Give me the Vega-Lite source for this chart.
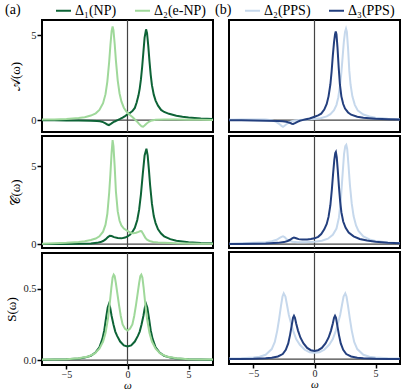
{
"$schema": "https://vega.github.io/schema/vega-lite/v6.json",
"padding": {"left": 4, "top": 2, "right": 5, "bottom": 0},
"datasets": {
"aA": [
{"s":"Δ₁(NP)","x":-7,"y":-0.01},{"s":"Δ₁(NP)","x":-6,"y":-0.01},{"s":"Δ₁(NP)","x":-5,"y":-0.015},{"s":"Δ₁(NP)","x":-4,"y":-0.02},{"s":"Δ₁(NP)","x":-3,"y":-0.03},{"s":"Δ₁(NP)","x":-2.5,"y":-0.05},{"s":"Δ₁(NP)","x":-2.25,"y":-0.07},{"s":"Δ₁(NP)","x":-2,"y":-0.12},{"s":"Δ₁(NP)","x":-1.8,"y":-0.19},{"s":"Δ₁(NP)","x":-1.65,"y":-0.26},{"s":"Δ₁(NP)","x":-1.52,"y":-0.29},{"s":"Δ₁(NP)","x":-1.4,"y":-0.24},{"s":"Δ₁(NP)","x":-1.25,"y":-0.16},{"s":"Δ₁(NP)","x":-1.05,"y":-0.08},{"s":"Δ₁(NP)","x":-0.81,"y":0},{"s":"Δ₁(NP)","x":-0.6,"y":0.07},{"s":"Δ₁(NP)","x":-0.4,"y":0.15},{"s":"Δ₁(NP)","x":-0.2,"y":0.24},{"s":"Δ₁(NP)","x":0,"y":0.34},{"s":"Δ₁(NP)","x":0.2,"y":0.42},{"s":"Δ₁(NP)","x":0.4,"y":0.53},{"s":"Δ₁(NP)","x":0.6,"y":0.72},{"s":"Δ₁(NP)","x":0.75,"y":1.04},{"s":"Δ₁(NP)","x":0.9,"y":1.46},{"s":"Δ₁(NP)","x":1,"y":1.86},{"s":"Δ₁(NP)","x":1.1,"y":2.4},{"s":"Δ₁(NP)","x":1.2,"y":3.13},{"s":"Δ₁(NP)","x":1.3,"y":4.0},{"s":"Δ₁(NP)","x":1.4,"y":4.86},{"s":"Δ₁(NP)","x":1.52,"y":5.35},{"s":"Δ₁(NP)","x":1.6,"y":5.12},{"s":"Δ₁(NP)","x":1.7,"y":4.37},{"s":"Δ₁(NP)","x":1.8,"y":3.46},{"s":"Δ₁(NP)","x":1.9,"y":2.67},{"s":"Δ₁(NP)","x":2,"y":2.06},{"s":"Δ₁(NP)","x":2.15,"y":1.5},{"s":"Δ₁(NP)","x":2.3,"y":1.15},{"s":"Δ₁(NP)","x":2.5,"y":0.85},{"s":"Δ₁(NP)","x":2.75,"y":0.6},{"s":"Δ₁(NP)","x":3,"y":0.48},{"s":"Δ₁(NP)","x":3.4,"y":0.37},{"s":"Δ₁(NP)","x":4,"y":0.26},{"s":"Δ₁(NP)","x":4.5,"y":0.2},{"s":"Δ₁(NP)","x":5,"y":0.16},{"s":"Δ₁(NP)","x":6,"y":0.1},{"s":"Δ₁(NP)","x":7,"y":0.07},
{"s":"Δ₂(e-NP)","x":-7,"y":0.03},{"s":"Δ₂(e-NP)","x":-6,"y":0.04},{"s":"Δ₂(e-NP)","x":-5,"y":0.07},{"s":"Δ₂(e-NP)","x":-4,"y":0.12},{"s":"Δ₂(e-NP)","x":-3.5,"y":0.17},{"s":"Δ₂(e-NP)","x":-3,"y":0.27},{"s":"Δ₂(e-NP)","x":-2.6,"y":0.4},{"s":"Δ₂(e-NP)","x":-2.3,"y":0.6},{"s":"Δ₂(e-NP)","x":-2,"y":1.0},{"s":"Δ₂(e-NP)","x":-1.8,"y":1.53},{"s":"Δ₂(e-NP)","x":-1.65,"y":2.27},{"s":"Δ₂(e-NP)","x":-1.5,"y":3.44},{"s":"Δ₂(e-NP)","x":-1.4,"y":4.41},{"s":"Δ₂(e-NP)","x":-1.3,"y":5.24},{"s":"Δ₂(e-NP)","x":-1.22,"y":5.52},{"s":"Δ₂(e-NP)","x":-1.15,"y":5.3},{"s":"Δ₂(e-NP)","x":-1.05,"y":4.5},{"s":"Δ₂(e-NP)","x":-0.95,"y":3.52},{"s":"Δ₂(e-NP)","x":-0.8,"y":2.33},{"s":"Δ₂(e-NP)","x":-0.65,"y":1.57},{"s":"Δ₂(e-NP)","x":-0.5,"y":1.1},{"s":"Δ₂(e-NP)","x":-0.3,"y":0.73},{"s":"Δ₂(e-NP)","x":-0.1,"y":0.52},{"s":"Δ₂(e-NP)","x":0,"y":0.43},{"s":"Δ₂(e-NP)","x":0.2,"y":0.3},{"s":"Δ₂(e-NP)","x":0.4,"y":0.18},{"s":"Δ₂(e-NP)","x":0.55,"y":0.08},{"s":"Δ₂(e-NP)","x":0.65,"y":0},{"s":"Δ₂(e-NP)","x":0.8,"y":-0.1},{"s":"Δ₂(e-NP)","x":0.95,"y":-0.22},{"s":"Δ₂(e-NP)","x":1.1,"y":-0.33},{"s":"Δ₂(e-NP)","x":1.2,"y":-0.38},{"s":"Δ₂(e-NP)","x":1.28,"y":-0.39},{"s":"Δ₂(e-NP)","x":1.4,"y":-0.32},{"s":"Δ₂(e-NP)","x":1.55,"y":-0.21},{"s":"Δ₂(e-NP)","x":1.75,"y":-0.1},{"s":"Δ₂(e-NP)","x":2,"y":-0.02},{"s":"Δ₂(e-NP)","x":2.3,"y":0.02},{"s":"Δ₂(e-NP)","x":3,"y":0.04},{"s":"Δ₂(e-NP)","x":4,"y":0.03},{"s":"Δ₂(e-NP)","x":5,"y":0.02},{"s":"Δ₂(e-NP)","x":6,"y":0.015},{"s":"Δ₂(e-NP)","x":7,"y":0.01}
],
"aC": [
{"s":"Δ₁(NP)","x":-7,"y":0},{"s":"Δ₁(NP)","x":-6,"y":0.005},{"s":"Δ₁(NP)","x":-5,"y":0.01},{"s":"Δ₁(NP)","x":-4,"y":0.02},{"s":"Δ₁(NP)","x":-3,"y":0.04},{"s":"Δ₁(NP)","x":-2.5,"y":0.08},{"s":"Δ₁(NP)","x":-2.2,"y":0.13},{"s":"Δ₁(NP)","x":-2,"y":0.2},{"s":"Δ₁(NP)","x":-1.8,"y":0.3},{"s":"Δ₁(NP)","x":-1.6,"y":0.45},{"s":"Δ₁(NP)","x":-1.45,"y":0.54},{"s":"Δ₁(NP)","x":-1.3,"y":0.52},{"s":"Δ₁(NP)","x":-1.1,"y":0.45},{"s":"Δ₁(NP)","x":-0.8,"y":0.39},{"s":"Δ₁(NP)","x":-0.5,"y":0.37},{"s":"Δ₁(NP)","x":-0.2,"y":0.42},{"s":"Δ₁(NP)","x":0,"y":0.5},{"s":"Δ₁(NP)","x":0.2,"y":0.6},{"s":"Δ₁(NP)","x":0.4,"y":0.78},{"s":"Δ₁(NP)","x":0.6,"y":1.05},{"s":"Δ₁(NP)","x":0.8,"y":1.55},{"s":"Δ₁(NP)","x":0.95,"y":2.2},{"s":"Δ₁(NP)","x":1.1,"y":3.2},{"s":"Δ₁(NP)","x":1.25,"y":4.5},{"s":"Δ₁(NP)","x":1.4,"y":5.7},{"s":"Δ₁(NP)","x":1.55,"y":6.13},{"s":"Δ₁(NP)","x":1.65,"y":5.7},{"s":"Δ₁(NP)","x":1.75,"y":4.8},{"s":"Δ₁(NP)","x":1.85,"y":3.8},{"s":"Δ₁(NP)","x":2,"y":2.6},{"s":"Δ₁(NP)","x":2.15,"y":1.8},{"s":"Δ₁(NP)","x":2.3,"y":1.35},{"s":"Δ₁(NP)","x":2.5,"y":0.95},{"s":"Δ₁(NP)","x":2.75,"y":0.68},{"s":"Δ₁(NP)","x":3,"y":0.5},{"s":"Δ₁(NP)","x":3.5,"y":0.32},{"s":"Δ₁(NP)","x":4,"y":0.22},{"s":"Δ₁(NP)","x":5,"y":0.12},{"s":"Δ₁(NP)","x":6,"y":0.07},{"s":"Δ₁(NP)","x":7,"y":0.05},
{"s":"Δ₂(e-NP)","x":-7,"y":0.03},{"s":"Δ₂(e-NP)","x":-6,"y":0.05},{"s":"Δ₂(e-NP)","x":-5,"y":0.08},{"s":"Δ₂(e-NP)","x":-4,"y":0.13},{"s":"Δ₂(e-NP)","x":-3.5,"y":0.18},{"s":"Δ₂(e-NP)","x":-3,"y":0.26},{"s":"Δ₂(e-NP)","x":-2.6,"y":0.36},{"s":"Δ₂(e-NP)","x":-2.3,"y":0.5},{"s":"Δ₂(e-NP)","x":-2,"y":0.8},{"s":"Δ₂(e-NP)","x":-1.8,"y":1.25},{"s":"Δ₂(e-NP)","x":-1.65,"y":1.95},{"s":"Δ₂(e-NP)","x":-1.5,"y":3.3},{"s":"Δ₂(e-NP)","x":-1.4,"y":4.5},{"s":"Δ₂(e-NP)","x":-1.3,"y":5.9},{"s":"Δ₂(e-NP)","x":-1.22,"y":6.69},{"s":"Δ₂(e-NP)","x":-1.15,"y":6.3},{"s":"Δ₂(e-NP)","x":-1.05,"y":5.0},{"s":"Δ₂(e-NP)","x":-0.95,"y":3.4},{"s":"Δ₂(e-NP)","x":-0.8,"y":2.1},{"s":"Δ₂(e-NP)","x":-0.65,"y":1.5},{"s":"Δ₂(e-NP)","x":-0.5,"y":1.2},{"s":"Δ₂(e-NP)","x":-0.3,"y":1.0},{"s":"Δ₂(e-NP)","x":-0.1,"y":0.9},{"s":"Δ₂(e-NP)","x":0.1,"y":0.8},{"s":"Δ₂(e-NP)","x":0.3,"y":0.72},{"s":"Δ₂(e-NP)","x":0.5,"y":0.7},{"s":"Δ₂(e-NP)","x":0.7,"y":0.73},{"s":"Δ₂(e-NP)","x":0.9,"y":0.79},{"s":"Δ₂(e-NP)","x":1.05,"y":0.84},{"s":"Δ₂(e-NP)","x":1.15,"y":0.83},{"s":"Δ₂(e-NP)","x":1.3,"y":0.64},{"s":"Δ₂(e-NP)","x":1.45,"y":0.42},{"s":"Δ₂(e-NP)","x":1.6,"y":0.28},{"s":"Δ₂(e-NP)","x":1.8,"y":0.2},{"s":"Δ₂(e-NP)","x":2.1,"y":0.14},{"s":"Δ₂(e-NP)","x":2.5,"y":0.1},{"s":"Δ₂(e-NP)","x":3,"y":0.08},{"s":"Δ₂(e-NP)","x":4,"y":0.05},{"s":"Δ₂(e-NP)","x":5,"y":0.04},{"s":"Δ₂(e-NP)","x":6,"y":0.03},{"s":"Δ₂(e-NP)","x":7,"y":0.02}
],
"aS": [
{"s":"Δ₁(NP)","x":-7,"y":0.002},{"s":"Δ₁(NP)","x":-6,"y":0.003},{"s":"Δ₁(NP)","x":-5,"y":0.005},{"s":"Δ₁(NP)","x":-4,"y":0.01},{"s":"Δ₁(NP)","x":-3.5,"y":0.017},{"s":"Δ₁(NP)","x":-3,"y":0.03},{"s":"Δ₁(NP)","x":-2.6,"y":0.055},{"s":"Δ₁(NP)","x":-2.3,"y":0.09},{"s":"Δ₁(NP)","x":-2.05,"y":0.15},{"s":"Δ₁(NP)","x":-1.9,"y":0.21},{"s":"Δ₁(NP)","x":-1.75,"y":0.3},{"s":"Δ₁(NP)","x":-1.62,"y":0.37},{"s":"Δ₁(NP)","x":-1.52,"y":0.394},{"s":"Δ₁(NP)","x":-1.42,"y":0.37},{"s":"Δ₁(NP)","x":-1.3,"y":0.31},{"s":"Δ₁(NP)","x":-1.15,"y":0.25},{"s":"Δ₁(NP)","x":-1,"y":0.2},{"s":"Δ₁(NP)","x":-0.85,"y":0.17},{"s":"Δ₁(NP)","x":-0.6,"y":0.13},{"s":"Δ₁(NP)","x":-0.3,"y":0.103},{"s":"Δ₁(NP)","x":0,"y":0.095},{"s":"Δ₁(NP)","x":0.3,"y":0.103},{"s":"Δ₁(NP)","x":0.6,"y":0.13},{"s":"Δ₁(NP)","x":0.85,"y":0.17},{"s":"Δ₁(NP)","x":1,"y":0.2},{"s":"Δ₁(NP)","x":1.15,"y":0.25},{"s":"Δ₁(NP)","x":1.3,"y":0.31},{"s":"Δ₁(NP)","x":1.42,"y":0.37},{"s":"Δ₁(NP)","x":1.52,"y":0.394},{"s":"Δ₁(NP)","x":1.62,"y":0.37},{"s":"Δ₁(NP)","x":1.75,"y":0.3},{"s":"Δ₁(NP)","x":1.9,"y":0.21},{"s":"Δ₁(NP)","x":2.05,"y":0.15},{"s":"Δ₁(NP)","x":2.3,"y":0.09},{"s":"Δ₁(NP)","x":2.6,"y":0.055},{"s":"Δ₁(NP)","x":3,"y":0.03},{"s":"Δ₁(NP)","x":3.5,"y":0.017},{"s":"Δ₁(NP)","x":4,"y":0.01},{"s":"Δ₁(NP)","x":5,"y":0.005},{"s":"Δ₁(NP)","x":6,"y":0.003},{"s":"Δ₁(NP)","x":7,"y":0.002},
{"s":"Δ₂(e-NP)","x":-7,"y":0.003},{"s":"Δ₂(e-NP)","x":-6,"y":0.004},{"s":"Δ₂(e-NP)","x":-5,"y":0.006},{"s":"Δ₂(e-NP)","x":-4,"y":0.012},{"s":"Δ₂(e-NP)","x":-3.2,"y":0.025},{"s":"Δ₂(e-NP)","x":-2.7,"y":0.045},{"s":"Δ₂(e-NP)","x":-2.3,"y":0.08},{"s":"Δ₂(e-NP)","x":-2,"y":0.13},{"s":"Δ₂(e-NP)","x":-1.8,"y":0.19},{"s":"Δ₂(e-NP)","x":-1.6,"y":0.29},{"s":"Δ₂(e-NP)","x":-1.45,"y":0.4},{"s":"Δ₂(e-NP)","x":-1.32,"y":0.51},{"s":"Δ₂(e-NP)","x":-1.22,"y":0.58},{"s":"Δ₂(e-NP)","x":-1.13,"y":0.6},{"s":"Δ₂(e-NP)","x":-1.05,"y":0.59},{"s":"Δ₂(e-NP)","x":-0.95,"y":0.54},{"s":"Δ₂(e-NP)","x":-0.85,"y":0.48},{"s":"Δ₂(e-NP)","x":-0.7,"y":0.39},{"s":"Δ₂(e-NP)","x":-0.55,"y":0.31},{"s":"Δ₂(e-NP)","x":-0.4,"y":0.25},{"s":"Δ₂(e-NP)","x":-0.2,"y":0.22},{"s":"Δ₂(e-NP)","x":0,"y":0.207},{"s":"Δ₂(e-NP)","x":0.2,"y":0.22},{"s":"Δ₂(e-NP)","x":0.4,"y":0.25},{"s":"Δ₂(e-NP)","x":0.55,"y":0.31},{"s":"Δ₂(e-NP)","x":0.7,"y":0.39},{"s":"Δ₂(e-NP)","x":0.85,"y":0.48},{"s":"Δ₂(e-NP)","x":0.95,"y":0.54},{"s":"Δ₂(e-NP)","x":1.05,"y":0.59},{"s":"Δ₂(e-NP)","x":1.13,"y":0.6},{"s":"Δ₂(e-NP)","x":1.22,"y":0.58},{"s":"Δ₂(e-NP)","x":1.32,"y":0.51},{"s":"Δ₂(e-NP)","x":1.45,"y":0.4},{"s":"Δ₂(e-NP)","x":1.6,"y":0.29},{"s":"Δ₂(e-NP)","x":1.8,"y":0.19},{"s":"Δ₂(e-NP)","x":2,"y":0.13},{"s":"Δ₂(e-NP)","x":2.3,"y":0.08},{"s":"Δ₂(e-NP)","x":2.7,"y":0.045},{"s":"Δ₂(e-NP)","x":3.2,"y":0.025},{"s":"Δ₂(e-NP)","x":4,"y":0.012},{"s":"Δ₂(e-NP)","x":5,"y":0.006},{"s":"Δ₂(e-NP)","x":6,"y":0.004},{"s":"Δ₂(e-NP)","x":7,"y":0.003}
],
"bA": [
{"s":"Δ₂(PPS)","x":-7,"y":0.02},{"s":"Δ₂(PPS)","x":-6,"y":0.03},{"s":"Δ₂(PPS)","x":-5,"y":0.04},{"s":"Δ₂(PPS)","x":-4,"y":0.04},{"s":"Δ₂(PPS)","x":-3.5,"y":0},{"s":"Δ₂(PPS)","x":-3.2,"y":-0.08},{"s":"Δ₂(PPS)","x":-2.9,"y":-0.22},{"s":"Δ₂(PPS)","x":-2.7,"y":-0.34},{"s":"Δ₂(PPS)","x":-2.58,"y":-0.39},{"s":"Δ₂(PPS)","x":-2.45,"y":-0.33},{"s":"Δ₂(PPS)","x":-2.3,"y":-0.24},{"s":"Δ₂(PPS)","x":-2.1,"y":-0.14},{"s":"Δ₂(PPS)","x":-1.85,"y":-0.06},{"s":"Δ₂(PPS)","x":-1.6,"y":-0.02},{"s":"Δ₂(PPS)","x":-1.2,"y":0.01},{"s":"Δ₂(PPS)","x":-0.6,"y":0.03},{"s":"Δ₂(PPS)","x":0,"y":0.06},{"s":"Δ₂(PPS)","x":0.5,"y":0.11},{"s":"Δ₂(PPS)","x":1,"y":0.22},{"s":"Δ₂(PPS)","x":1.3,"y":0.35},{"s":"Δ₂(PPS)","x":1.6,"y":0.58},{"s":"Δ₂(PPS)","x":1.8,"y":0.9},{"s":"Δ₂(PPS)","x":1.95,"y":1.35},{"s":"Δ₂(PPS)","x":2.1,"y":2.1},{"s":"Δ₂(PPS)","x":2.2,"y":2.8},{"s":"Δ₂(PPS)","x":2.3,"y":3.7},{"s":"Δ₂(PPS)","x":2.4,"y":4.6},{"s":"Δ₂(PPS)","x":2.5,"y":5.2},{"s":"Δ₂(PPS)","x":2.58,"y":5.39},{"s":"Δ₂(PPS)","x":2.65,"y":5.2},{"s":"Δ₂(PPS)","x":2.75,"y":4.2},{"s":"Δ₂(PPS)","x":2.85,"y":2.9},{"s":"Δ₂(PPS)","x":2.95,"y":2.1},{"s":"Δ₂(PPS)","x":3.1,"y":1.4},{"s":"Δ₂(PPS)","x":3.3,"y":0.9},{"s":"Δ₂(PPS)","x":3.55,"y":0.56},{"s":"Δ₂(PPS)","x":4,"y":0.33},{"s":"Δ₂(PPS)","x":4.5,"y":0.21},{"s":"Δ₂(PPS)","x":5,"y":0.14},{"s":"Δ₂(PPS)","x":6,"y":0.08},{"s":"Δ₂(PPS)","x":7,"y":0.05},
{"s":"Δ₃(PPS)","x":-7,"y":-0.01},{"s":"Δ₃(PPS)","x":-6,"y":-0.01},{"s":"Δ₃(PPS)","x":-5,"y":-0.02},{"s":"Δ₃(PPS)","x":-4,"y":-0.03},{"s":"Δ₃(PPS)","x":-3,"y":-0.05},{"s":"Δ₃(PPS)","x":-2.6,"y":-0.07},{"s":"Δ₃(PPS)","x":-2.3,"y":-0.1},{"s":"Δ₃(PPS)","x":-2.05,"y":-0.15},{"s":"Δ₃(PPS)","x":-1.85,"y":-0.21},{"s":"Δ₃(PPS)","x":-1.75,"y":-0.23},{"s":"Δ₃(PPS)","x":-1.6,"y":-0.18},{"s":"Δ₃(PPS)","x":-1.4,"y":-0.1},{"s":"Δ₃(PPS)","x":-1.2,"y":-0.04},{"s":"Δ₃(PPS)","x":-1,"y":0},{"s":"Δ₃(PPS)","x":-0.7,"y":0.05},{"s":"Δ₃(PPS)","x":-0.4,"y":0.1},{"s":"Δ₃(PPS)","x":0,"y":0.2},{"s":"Δ₃(PPS)","x":0.3,"y":0.28},{"s":"Δ₃(PPS)","x":0.55,"y":0.38},{"s":"Δ₃(PPS)","x":0.8,"y":0.62},{"s":"Δ₃(PPS)","x":1,"y":0.95},{"s":"Δ₃(PPS)","x":1.15,"y":1.4},{"s":"Δ₃(PPS)","x":1.3,"y":2.1},{"s":"Δ₃(PPS)","x":1.4,"y":2.85},{"s":"Δ₃(PPS)","x":1.5,"y":3.8},{"s":"Δ₃(PPS)","x":1.6,"y":4.6},{"s":"Δ₃(PPS)","x":1.68,"y":5.05},{"s":"Δ₃(PPS)","x":1.74,"y":5.23},{"s":"Δ₃(PPS)","x":1.8,"y":5.05},{"s":"Δ₃(PPS)","x":1.88,"y":4.3},{"s":"Δ₃(PPS)","x":1.98,"y":3.1},{"s":"Δ₃(PPS)","x":2.08,"y":2.1},{"s":"Δ₃(PPS)","x":2.2,"y":1.4},{"s":"Δ₃(PPS)","x":2.35,"y":0.95},{"s":"Δ₃(PPS)","x":2.5,"y":0.68},{"s":"Δ₃(PPS)","x":2.75,"y":0.45},{"s":"Δ₃(PPS)","x":3,"y":0.32},{"s":"Δ₃(PPS)","x":3.5,"y":0.2},{"s":"Δ₃(PPS)","x":4,"y":0.14},{"s":"Δ₃(PPS)","x":5,"y":0.08},{"s":"Δ₃(PPS)","x":6,"y":0.05},{"s":"Δ₃(PPS)","x":7,"y":0.035}
],
"bC": [
{"s":"Δ₂(PPS)","x":-7,"y":0.03},{"s":"Δ₂(PPS)","x":-6,"y":0.05},{"s":"Δ₂(PPS)","x":-5,"y":0.08},{"s":"Δ₂(PPS)","x":-4,"y":0.12},{"s":"Δ₂(PPS)","x":-3.5,"y":0.18},{"s":"Δ₂(PPS)","x":-3.1,"y":0.28},{"s":"Δ₂(PPS)","x":-2.85,"y":0.4},{"s":"Δ₂(PPS)","x":-2.7,"y":0.47},{"s":"Δ₂(PPS)","x":-2.58,"y":0.5},{"s":"Δ₂(PPS)","x":-2.45,"y":0.45},{"s":"Δ₂(PPS)","x":-2.3,"y":0.33},{"s":"Δ₂(PPS)","x":-2.1,"y":0.22},{"s":"Δ₂(PPS)","x":-1.8,"y":0.15},{"s":"Δ₂(PPS)","x":-1.4,"y":0.12},{"s":"Δ₂(PPS)","x":-0.8,"y":0.12},{"s":"Δ₂(PPS)","x":0,"y":0.15},{"s":"Δ₂(PPS)","x":0.6,"y":0.22},{"s":"Δ₂(PPS)","x":1.1,"y":0.35},{"s":"Δ₂(PPS)","x":1.5,"y":0.6},{"s":"Δ₂(PPS)","x":1.8,"y":1.0},{"s":"Δ₂(PPS)","x":2,"y":1.7},{"s":"Δ₂(PPS)","x":2.15,"y":2.8},{"s":"Δ₂(PPS)","x":2.3,"y":4.5},{"s":"Δ₂(PPS)","x":2.42,"y":5.8},{"s":"Δ₂(PPS)","x":2.52,"y":6.3},{"s":"Δ₂(PPS)","x":2.6,"y":6.38},{"s":"Δ₂(PPS)","x":2.68,"y":6.1},{"s":"Δ₂(PPS)","x":2.78,"y":5.1},{"s":"Δ₂(PPS)","x":2.9,"y":3.8},{"s":"Δ₂(PPS)","x":3.05,"y":2.6},{"s":"Δ₂(PPS)","x":3.2,"y":1.8},{"s":"Δ₂(PPS)","x":3.4,"y":1.2},{"s":"Δ₂(PPS)","x":3.6,"y":0.85},{"s":"Δ₂(PPS)","x":4,"y":0.5},{"s":"Δ₂(PPS)","x":4.5,"y":0.3},{"s":"Δ₂(PPS)","x":5,"y":0.2},{"s":"Δ₂(PPS)","x":6,"y":0.1},{"s":"Δ₂(PPS)","x":7,"y":0.06},
{"s":"Δ₃(PPS)","x":-7,"y":0},{"s":"Δ₃(PPS)","x":-6,"y":0.01},{"s":"Δ₃(PPS)","x":-5,"y":0.02},{"s":"Δ₃(PPS)","x":-4,"y":0.04},{"s":"Δ₃(PPS)","x":-3,"y":0.08},{"s":"Δ₃(PPS)","x":-2.5,"y":0.13},{"s":"Δ₃(PPS)","x":-2.2,"y":0.2},{"s":"Δ₃(PPS)","x":-2,"y":0.28},{"s":"Δ₃(PPS)","x":-1.8,"y":0.38},{"s":"Δ₃(PPS)","x":-1.68,"y":0.42},{"s":"Δ₃(PPS)","x":-1.5,"y":0.38},{"s":"Δ₃(PPS)","x":-1.3,"y":0.32},{"s":"Δ₃(PPS)","x":-1,"y":0.29},{"s":"Δ₃(PPS)","x":-0.6,"y":0.3},{"s":"Δ₃(PPS)","x":-0.3,"y":0.33},{"s":"Δ₃(PPS)","x":0,"y":0.37},{"s":"Δ₃(PPS)","x":0.3,"y":0.47},{"s":"Δ₃(PPS)","x":0.55,"y":0.65},{"s":"Δ₃(PPS)","x":0.8,"y":0.95},{"s":"Δ₃(PPS)","x":1,"y":1.3},{"s":"Δ₃(PPS)","x":1.15,"y":1.75},{"s":"Δ₃(PPS)","x":1.3,"y":2.5},{"s":"Δ₃(PPS)","x":1.42,"y":3.5},{"s":"Δ₃(PPS)","x":1.52,"y":4.5},{"s":"Δ₃(PPS)","x":1.62,"y":5.4},{"s":"Δ₃(PPS)","x":1.7,"y":5.85},{"s":"Δ₃(PPS)","x":1.75,"y":5.92},{"s":"Δ₃(PPS)","x":1.82,"y":5.6},{"s":"Δ₃(PPS)","x":1.9,"y":4.8},{"s":"Δ₃(PPS)","x":2,"y":3.7},{"s":"Δ₃(PPS)","x":2.1,"y":2.75},{"s":"Δ₃(PPS)","x":2.2,"y":2.05},{"s":"Δ₃(PPS)","x":2.35,"y":1.45},{"s":"Δ₃(PPS)","x":2.55,"y":1.05},{"s":"Δ₃(PPS)","x":2.8,"y":0.75},{"s":"Δ₃(PPS)","x":3.2,"y":0.5},{"s":"Δ₃(PPS)","x":3.7,"y":0.33},{"s":"Δ₃(PPS)","x":4.3,"y":0.23},{"s":"Δ₃(PPS)","x":5,"y":0.15},{"s":"Δ₃(PPS)","x":6,"y":0.09},{"s":"Δ₃(PPS)","x":7,"y":0.06}
],
"bS": [
{"s":"Δ₂(PPS)","x":-7,"y":0.003},{"s":"Δ₂(PPS)","x":-6,"y":0.005},{"s":"Δ₂(PPS)","x":-5,"y":0.01},{"s":"Δ₂(PPS)","x":-4.5,"y":0.016},{"s":"Δ₂(PPS)","x":-4,"y":0.03},{"s":"Δ₂(PPS)","x":-3.5,"y":0.07},{"s":"Δ₂(PPS)","x":-3.25,"y":0.12},{"s":"Δ₂(PPS)","x":-3.05,"y":0.2},{"s":"Δ₂(PPS)","x":-2.9,"y":0.28},{"s":"Δ₂(PPS)","x":-2.75,"y":0.37},{"s":"Δ₂(PPS)","x":-2.62,"y":0.44},{"s":"Δ₂(PPS)","x":-2.52,"y":0.462},{"s":"Δ₂(PPS)","x":-2.38,"y":0.44},{"s":"Δ₂(PPS)","x":-2.25,"y":0.38},{"s":"Δ₂(PPS)","x":-2.1,"y":0.31},{"s":"Δ₂(PPS)","x":-1.95,"y":0.26},{"s":"Δ₂(PPS)","x":-1.75,"y":0.2},{"s":"Δ₂(PPS)","x":-1.5,"y":0.14},{"s":"Δ₂(PPS)","x":-1.2,"y":0.1},{"s":"Δ₂(PPS)","x":-0.8,"y":0.065},{"s":"Δ₂(PPS)","x":-0.4,"y":0.048},{"s":"Δ₂(PPS)","x":0,"y":0.045},{"s":"Δ₂(PPS)","x":0.4,"y":0.048},{"s":"Δ₂(PPS)","x":0.8,"y":0.065},{"s":"Δ₂(PPS)","x":1.2,"y":0.1},{"s":"Δ₂(PPS)","x":1.5,"y":0.14},{"s":"Δ₂(PPS)","x":1.75,"y":0.2},{"s":"Δ₂(PPS)","x":1.95,"y":0.26},{"s":"Δ₂(PPS)","x":2.1,"y":0.31},{"s":"Δ₂(PPS)","x":2.25,"y":0.38},{"s":"Δ₂(PPS)","x":2.38,"y":0.44},{"s":"Δ₂(PPS)","x":2.52,"y":0.462},{"s":"Δ₂(PPS)","x":2.62,"y":0.44},{"s":"Δ₂(PPS)","x":2.75,"y":0.37},{"s":"Δ₂(PPS)","x":2.9,"y":0.28},{"s":"Δ₂(PPS)","x":3.05,"y":0.2},{"s":"Δ₂(PPS)","x":3.25,"y":0.12},{"s":"Δ₂(PPS)","x":3.5,"y":0.07},{"s":"Δ₂(PPS)","x":4,"y":0.03},{"s":"Δ₂(PPS)","x":4.5,"y":0.016},{"s":"Δ₂(PPS)","x":5,"y":0.01},{"s":"Δ₂(PPS)","x":6,"y":0.005},{"s":"Δ₂(PPS)","x":7,"y":0.003},
{"s":"Δ₃(PPS)","x":-7,"y":0.001},{"s":"Δ₃(PPS)","x":-6,"y":0.001},{"s":"Δ₃(PPS)","x":-5,"y":0.002},{"s":"Δ₃(PPS)","x":-4,"y":0.005},{"s":"Δ₃(PPS)","x":-3.5,"y":0.009},{"s":"Δ₃(PPS)","x":-3,"y":0.018},{"s":"Δ₃(PPS)","x":-2.6,"y":0.035},{"s":"Δ₃(PPS)","x":-2.35,"y":0.065},{"s":"Δ₃(PPS)","x":-2.15,"y":0.11},{"s":"Δ₃(PPS)","x":-2,"y":0.17},{"s":"Δ₃(PPS)","x":-1.88,"y":0.23},{"s":"Δ₃(PPS)","x":-1.76,"y":0.29},{"s":"Δ₃(PPS)","x":-1.68,"y":0.304},{"s":"Δ₃(PPS)","x":-1.6,"y":0.29},{"s":"Δ₃(PPS)","x":-1.5,"y":0.25},{"s":"Δ₃(PPS)","x":-1.35,"y":0.2},{"s":"Δ₃(PPS)","x":-1.15,"y":0.15},{"s":"Δ₃(PPS)","x":-0.9,"y":0.11},{"s":"Δ₃(PPS)","x":-0.6,"y":0.078},{"s":"Δ₃(PPS)","x":-0.3,"y":0.062},{"s":"Δ₃(PPS)","x":0,"y":0.057},{"s":"Δ₃(PPS)","x":0.3,"y":0.062},{"s":"Δ₃(PPS)","x":0.6,"y":0.078},{"s":"Δ₃(PPS)","x":0.9,"y":0.11},{"s":"Δ₃(PPS)","x":1.15,"y":0.15},{"s":"Δ₃(PPS)","x":1.35,"y":0.2},{"s":"Δ₃(PPS)","x":1.5,"y":0.25},{"s":"Δ₃(PPS)","x":1.6,"y":0.29},{"s":"Δ₃(PPS)","x":1.68,"y":0.304},{"s":"Δ₃(PPS)","x":1.76,"y":0.29},{"s":"Δ₃(PPS)","x":1.88,"y":0.23},{"s":"Δ₃(PPS)","x":2,"y":0.17},{"s":"Δ₃(PPS)","x":2.15,"y":0.11},{"s":"Δ₃(PPS)","x":2.35,"y":0.065},{"s":"Δ₃(PPS)","x":2.6,"y":0.035},{"s":"Δ₃(PPS)","x":3,"y":0.018},{"s":"Δ₃(PPS)","x":3.5,"y":0.009},{"s":"Δ₃(PPS)","x":4,"y":0.005},{"s":"Δ₃(PPS)","x":5,"y":0.002},{"s":"Δ₃(PPS)","x":6,"y":0.001},{"s":"Δ₃(PPS)","x":7,"y":0.001}
]
},
"hconcat": [
{
"spacing": 0,
"resolve": {"scale": {"x": "independent", "y": "independent"}},
"vconcat": [
{"width": 171, "height": 112, "data": {"name": "aA"},
"encoding": {
"x": {"field": "x", "type": "quantitative", "scale": {"domain": [-7, 7], "nice": false}, "axis": null},
"y": {"field": "y", "type": "quantitative", "scale": {"domain": [-0.7, 5.9], "nice": false, "zero": false}, "axis": {"values": [0, 5], "title": "𝒜(ω)", "titlePadding": 8}}
},
"layer": [
{"data": {"values": [{"x": 0, "y": 0}]}, "mark": {"type": "rule", "color": "#444", "strokeWidth": 1.2}, "encoding": {"x": null}},
{"data": {"values": [{"x": 0, "y": 0}]}, "mark": {"type": "rule", "color": "#444", "strokeWidth": 1.2}, "encoding": {"y": null}},
{"mark": {"type": "line", "strokeWidth": 2, "clip": true},
"encoding": {
"color": {"field": "s", "type": "nominal", "scale": {"domain": ["Δ₁(NP)", "Δ₂(e-NP)"], "range": ["#0d6336", "#9fd89a"]}, "legend": {"title": "(a)", "orient": "none", "legendX": -37, "legendY": -18, "direction": "horizontal", "titleOrient": "left", "titlePadding": 34}}
}}
]},
{"width": 171, "height": 112, "data": {"name": "aC"},
"encoding": {
"x": {"field": "x", "type": "quantitative", "scale": {"domain": [-7, 7], "nice": false}, "axis": null},
"y": {"field": "y", "type": "quantitative", "scale": {"domain": [-0.25, 6.95], "nice": false, "zero": false}, "axis": {"values": [0, 5], "title": "𝒞(ω)", "titlePadding": 8}}
},
"layer": [
{"data": {"values": [{"x": 0, "y": 0}]}, "mark": {"type": "rule", "color": "#444", "strokeWidth": 1.2}, "encoding": {"x": null}},
{"data": {"values": [{"x": 0, "y": 0}]}, "mark": {"type": "rule", "color": "#444", "strokeWidth": 1.2}, "encoding": {"y": null}},
{"mark": {"type": "line", "strokeWidth": 2, "clip": true},
"encoding": {
"color": {"field": "s", "type": "nominal", "scale": {"domain": ["Δ₁(NP)", "Δ₂(e-NP)"], "range": ["#0d6336", "#9fd89a"]}, "legend": {"title": "(a)", "orient": "none", "legendX": -37, "legendY": -18, "direction": "horizontal", "titleOrient": "left", "titlePadding": 34}}
}}
]},
{"width": 171, "height": 112, "data": {"name": "aS"},
"encoding": {
"x": {"field": "x", "type": "quantitative", "scale": {"domain": [-7, 7], "nice": false}, "axis": {"values": [-5, 0, 5], "title": "ω", "titleFontStyle": "italic", "titleFontSize": 11, "titlePadding": 0, "tickSize": 4, "labelPadding": 0, "labelFontSize": 10}},
"y": {"field": "y", "type": "quantitative", "scale": {"domain": [-0.035, 0.753], "nice": false, "zero": false}, "axis": {"values": [0, 0.5], "format": ".1f", "title": "S(ω)", "titlePadding": 4}}
},
"layer": [
{"data": {"values": [{"x": 0, "y": 0}]}, "mark": {"type": "rule", "color": "#444", "strokeWidth": 1.2}, "encoding": {"x": null}},
{"data": {"values": [{"x": 0, "y": 0}]}, "mark": {"type": "rule", "color": "#444", "strokeWidth": 1.2}, "encoding": {"y": null}},
{"mark": {"type": "line", "strokeWidth": 2, "clip": true},
"encoding": {
"color": {"field": "s", "type": "nominal", "scale": {"domain": ["Δ₁(NP)", "Δ₂(e-NP)"], "range": ["#0d6336", "#9fd89a"]}, "legend": {"title": "(a)", "orient": "none", "legendX": -37, "legendY": -18, "direction": "horizontal", "titleOrient": "left", "titlePadding": 34}}
}}
]}
]
},
{
"spacing": 0,
"resolve": {"scale": {"x": "independent", "y": "independent"}},
"vconcat": [
{"width": 171, "height": 112, "data": {"name": "bA"},
"encoding": {
"x": {"field": "x", "type": "quantitative", "scale": {"domain": [-7, 7], "nice": false}, "axis": null},
"y": {"field": "y", "type": "quantitative", "scale": {"domain": [-0.7, 5.9], "nice": false, "zero": false}, "axis": null}
},
"layer": [
{"data": {"values": [{"x": 0, "y": 0}]}, "mark": {"type": "rule", "color": "#444", "strokeWidth": 1.2}, "encoding": {"x": null}},
{"data": {"values": [{"x": 0, "y": 0}]}, "mark": {"type": "rule", "color": "#444", "strokeWidth": 1.2}, "encoding": {"y": null}},
{"mark": {"type": "line", "strokeWidth": 2, "clip": true},
"encoding": {
"color": {"field": "s", "type": "nominal", "scale": {"domain": ["Δ₂(PPS)", "Δ₃(PPS)"], "range": ["#c6d8ec", "#233f7e"]}, "legend": {"title": "(b)", "orient": "none", "legendX": -14, "legendY": -18, "direction": "horizontal", "titleOrient": "left", "titlePadding": 12}}
}}
]},
{"width": 171, "height": 112, "data": {"name": "bC"},
"encoding": {
"x": {"field": "x", "type": "quantitative", "scale": {"domain": [-7, 7], "nice": false}, "axis": null},
"y": {"field": "y", "type": "quantitative", "scale": {"domain": [-0.25, 6.95], "nice": false, "zero": false}, "axis": null}
},
"layer": [
{"data": {"values": [{"x": 0, "y": 0}]}, "mark": {"type": "rule", "color": "#444", "strokeWidth": 1.2}, "encoding": {"x": null}},
{"data": {"values": [{"x": 0, "y": 0}]}, "mark": {"type": "rule", "color": "#444", "strokeWidth": 1.2}, "encoding": {"y": null}},
{"mark": {"type": "line", "strokeWidth": 2, "clip": true},
"encoding": {
"color": {"field": "s", "type": "nominal", "scale": {"domain": ["Δ₂(PPS)", "Δ₃(PPS)"], "range": ["#c6d8ec", "#233f7e"]}, "legend": {"title": "(b)", "orient": "none", "legendX": -14, "legendY": -18, "direction": "horizontal", "titleOrient": "left", "titlePadding": 12}}
}}
]},
{"width": 171, "height": 112, "data": {"name": "bS"},
"encoding": {
"x": {"field": "x", "type": "quantitative", "scale": {"domain": [-7, 7], "nice": false}, "axis": {"values": [-5, 0, 5], "title": "ω", "titleFontStyle": "italic", "titleFontSize": 11, "titlePadding": 0, "tickSize": 4, "labelPadding": 0, "labelFontSize": 10}},
"y": {"field": "y", "type": "quantitative", "scale": {"domain": [-0.035, 0.753], "nice": false, "zero": false}, "axis": null}
},
"layer": [
{"data": {"values": [{"x": 0, "y": 0}]}, "mark": {"type": "rule", "color": "#444", "strokeWidth": 1.2}, "encoding": {"x": null}},
{"data": {"values": [{"x": 0, "y": 0}]}, "mark": {"type": "rule", "color": "#444", "strokeWidth": 1.2}, "encoding": {"y": null}},
{"mark": {"type": "line", "strokeWidth": 2, "clip": true},
"encoding": {
"color": {"field": "s", "type": "nominal", "scale": {"domain": ["Δ₂(PPS)", "Δ₃(PPS)"], "range": ["#c6d8ec", "#233f7e"]}, "legend": {"title": "(b)", "orient": "none", "legendX": -14, "legendY": -18, "direction": "horizontal", "titleOrient": "left", "titlePadding": 12}}
}}
]}
]
}
],
"spacing": 0,
"resolve": {"scale": {"color": "independent"}, "legend": {"color": "independent"}},
"config": {
"font": "Liberation Serif",
"view": {"stroke": "black", "strokeWidth": 2},
"axis": {"labelFont": "Liberation Serif", "labelFontSize": 10.5, "labelColor": "#222", "tickColor": "black", "tickSize": 5, "tickWidth": 1.5, "domain": false, "grid": false, "labelPadding": 1, "titleFont": "Liberation Serif", "titleFontSize": 13, "titleFontWeight": "normal", "titleColor": "black"},
"legend": {"symbolType": "stroke", "symbolStrokeWidth": 2, "symbolSize": 225, "labelFont": "Liberation Serif", "labelFontSize": 14, "labelColor": "black", "labelOffset": 3, "titleFont": "Liberation Serif", "titleFontSize": 14, "titleFontWeight": "normal", "titleColor": "black", "columnPadding": 14, "padding": 0, "symbolOffset": 0}
}
}
